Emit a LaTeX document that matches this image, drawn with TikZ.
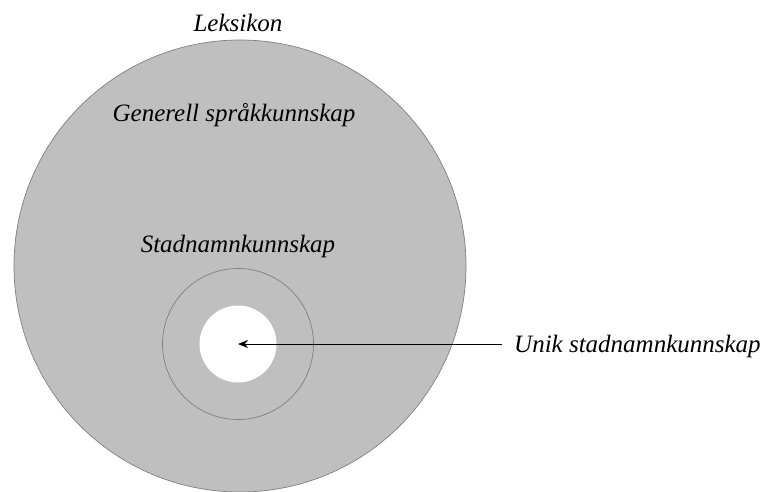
\documentclass[tikz,border=0pt]{standalone}
\usepackage{fontspec}
\setmainfont{Liberation Serif}
\usetikzlibrary{arrows.meta}
\definecolor{discfill}{HTML}{BFBFBF}
\definecolor{discline}{HTML}{808080}
\begin{document}
\begin{tikzpicture}[x=1pt,y=-1pt,
  lbl/.style={font=\fontsize{25}{29}\selectfont\itshape, anchor=base, inner sep=0pt},
  disc/.style={circle, draw=discline, line width=0.7pt, inner sep=0pt}]
\useasboundingbox (0,0) rectangle (771,492);
% nested knowledge areas
\node[disc, fill=discfill, minimum size=452pt] (lex) at (240,266) {};
\node[disc, fill=discfill, minimum size=151pt] (stad) at (238,344) {};
\node[circle, fill=white, inner sep=0pt, minimum size=77pt] (unik) at (238,344) {};
\coordinate (uc) at (238,344);
% labels
\node[lbl] (tlex) at (238,32) {Leksikon};
\node[lbl] (tgen) at (234,122) {Generell språkkunnskap};
\node[lbl] (tstad) at (238,252) {Stadnamnkunnskap};
\node[lbl, anchor=base west] (tunik) at (514,352) {Unik stadnamnkunnskap};
\draw[-{Stealth[length=10pt,width=8pt]}, line width=0.8pt] (tunik.west |- uc) ++(-12,0) coordinate (astart) -- (uc);
\end{tikzpicture}
\end{document}
